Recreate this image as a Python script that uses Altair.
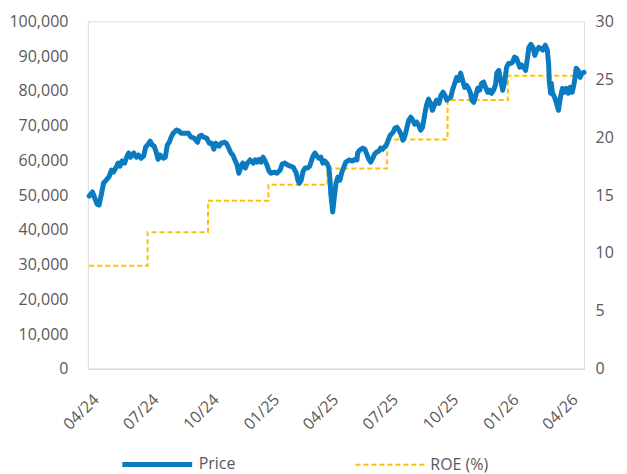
import altair as alt
import pandas as pd

# ---- Data ----
price_dates = [
    "2024-04-03", "2024-04-08", "2024-04-11", "2024-04-15", "2024-04-18", "2024-04-22", "2024-04-25", "2024-04-29",
    "2024-05-03", "2024-05-07", "2024-05-10", "2024-05-14", "2024-05-17", "2024-05-20", "2024-05-23", "2024-05-27",
    "2024-05-30", "2024-06-02", "2024-06-05", "2024-06-10", "2024-06-14", "2024-06-17", "2024-06-21", "2024-06-25",
    "2024-06-28", "2024-07-02", "2024-07-05", "2024-07-08", "2024-07-11", "2024-07-14", "2024-07-17", "2024-07-20",
    "2024-07-25", "2024-07-28", "2024-07-31", "2024-08-03", "2024-08-06", "2024-08-09", "2024-08-14", "2024-08-18",
    "2024-08-21", "2024-08-26", "2024-09-01", "2024-09-05", "2024-09-10", "2024-09-15", "2024-09-18", "2024-09-21",
    "2024-09-24", "2024-09-29", "2024-10-03", "2024-10-07", "2024-10-10", "2024-10-13", "2024-10-18", "2024-10-21",
    "2024-10-26", "2024-10-29", "2024-11-01", "2024-11-05", "2024-11-08", "2024-11-11", "2024-11-14", "2024-11-17",
    "2024-11-20", "2024-11-23", "2024-11-27", "2024-11-30", "2024-12-04", "2024-12-09", "2024-12-12", "2024-12-15",
    "2024-12-18", "2024-12-21", "2024-12-24", "2024-12-27", "2024-12-30", "2025-01-02", "2025-01-05", "2025-01-10",
    "2025-01-14", "2025-01-19", "2025-01-22", "2025-01-26", "2025-01-31", "2025-02-04", "2025-02-08", "2025-02-12",
    "2025-02-14", "2025-02-15", "2025-02-17", "2025-02-20", "2025-02-23", "2025-02-26", "2025-03-02", "2025-03-05",
    "2025-03-08", "2025-03-10", "2025-03-13", "2025-03-16", "2025-03-19", "2025-03-22", "2025-03-25", "2025-03-28",
    "2025-03-31", "2025-04-03", "2025-04-05", "2025-04-06", "2025-04-08", "2025-04-09", "2025-04-11", "2025-04-14",
    "2025-04-17", "2025-04-20", "2025-04-23", "2025-04-26", "2025-04-29", "2025-05-04", "2025-05-09", "2025-05-13",
    "2025-05-16", "2025-05-17", "2025-05-20", "2025-05-25", "2025-05-28", "2025-05-31", "2025-06-03", "2025-06-06",
    "2025-06-09", "2025-06-12", "2025-06-15", "2025-06-18", "2025-06-21", "2025-06-24", "2025-06-27", "2025-06-30",
    "2025-07-05", "2025-07-10", "2025-07-13", "2025-07-16", "2025-07-19", "2025-07-22", "2025-07-25", "2025-07-28",
    "2025-07-31", "2025-08-03", "2025-08-06", "2025-08-09", "2025-08-12", "2025-08-15", "2025-08-18", "2025-08-21",
    "2025-08-24", "2025-08-27", "2025-08-30", "2025-09-02", "2025-09-05", "2025-09-08", "2025-09-11", "2025-09-14",
    "2025-09-18", "2025-09-21", "2025-09-24", "2025-09-27", "2025-09-30", "2025-10-03", "2025-10-06", "2025-10-09",
    "2025-10-12", "2025-10-15", "2025-10-18", "2025-10-21", "2025-10-24", "2025-10-27", "2025-10-30", "2025-11-02",
    "2025-11-05", "2025-11-07", "2025-11-10", "2025-11-13", "2025-11-16", "2025-11-19", "2025-11-22", "2025-11-25",
    "2025-11-28", "2025-12-01", "2025-12-03", "2025-12-04", "2025-12-07", "2025-12-10", "2025-12-13", "2025-12-15",
    "2025-12-18", "2025-12-21", "2025-12-24", "2025-12-27", "2025-12-30", "2026-01-02", "2026-01-05", "2026-01-08",
    "2026-01-11", "2026-01-14", "2026-01-17", "2026-01-19", "2026-01-22", "2026-01-25", "2026-01-28", "2026-01-31",
    "2026-02-02", "2026-02-05", "2026-02-08", "2026-02-11", "2026-02-14", "2026-02-17", "2026-02-20", "2026-02-23",
    "2026-02-26", "2026-02-27", "2026-03-02", "2026-03-04", "2026-03-05", "2026-03-07", "2026-03-08", "2026-03-10",
    "2026-03-13", "2026-03-16", "2026-03-19", "2026-03-22", "2026-03-25", "2026-03-28", "2026-03-31", "2026-04-03",
    "2026-04-06", "2026-04-09", "2026-04-12", "2026-04-15", "2026-04-18", "2026-04-21", "2026-04-24", "2026-04-27",
]
price_values = [
    49700, 50900, 49400, 47400, 47100, 50600, 53500, 54300,
    55200, 57200, 56600, 58000, 59200, 58300, 59800, 59200,
    60900, 62100, 60900, 62100, 60900, 61500, 60600, 61200,
    63800, 64700, 65500, 64400, 64100, 62400, 60300, 61500,
    60600, 60900, 64400, 65200, 66700, 67800, 68700, 68400,
    67800, 67800, 67800, 66700, 66400, 65200, 67000, 67200,
    66700, 66400, 64900, 64900, 63200, 64900, 64100, 64900,
    65200, 64900, 63800, 62100, 61500, 60100, 58900, 56300,
    58000, 59200, 57800, 59200, 60100, 59200, 60100, 59500,
    60300, 59500, 60900, 59800, 58600, 56900, 56300, 56600,
    56300, 57200, 58900, 59200, 58600, 58300, 58000, 56600,
    55200, 54300, 53400, 54300, 56900, 57800, 57800, 58300,
    60100, 61200, 62100, 61200, 60600, 60900, 59200, 59800,
    59200, 58000, 54300, 50600, 47100, 45100, 48600, 53400,
    55200, 54300, 56600, 58000, 59500, 60100, 59800, 60300,
    60100, 62100, 62900, 63500, 63200, 61800, 60300, 59500,
    60600, 61800, 62400, 62600, 63500, 63200, 63800, 64500,
    67000, 68100, 69300, 69500, 68700, 67500, 65800, 67000,
    69300, 71600, 72400, 71600, 70400, 71000, 70100, 68700,
    69500, 73000, 75900, 77600, 76400, 74400, 75900, 77300,
    76400, 78700, 79600, 78700, 77300, 77900, 78200, 80500,
    82200, 83900, 83000, 85100, 83000, 81000, 81600, 80700,
    79300, 77300, 76700, 78700, 80700, 80200, 82200, 82500,
    81000, 79600, 79600, 80200, 79300, 80200, 81600, 85100,
    85900, 83000, 80200, 82500, 86800, 87900, 87900, 88200,
    89700, 89400, 87900, 86800, 87400, 86800, 85900, 89700,
    92500, 93400, 92500, 90200, 91700, 92500, 92200, 91700,
    92800, 93100, 91700, 87900, 83000, 79300, 82200, 79300,
    78200, 76400, 74400, 78200, 80700, 79600, 80700, 79300,
    81000, 79600, 82200, 86500, 85900, 83900, 85100, 85300,
]

roe_dates = ["2024-04-03", "2024-07-01", "2024-10-01", "2025-01-01", "2025-04-01",
             "2025-07-01", "2025-10-01", "2026-01-01", "2026-04-27"]
roe_values = [8.9, 11.8, 14.5, 15.9, 17.3, 19.8, 23.2, 25.3, 25.3]

series_names = ["Price", "ROE (%)"]
tick_dates = ["2024-04-01", "2024-07-01", "2024-10-01", "2025-01-01", "2025-04-01",
              "2025-07-01", "2025-10-01", "2026-01-01", "2026-04-01"]
price_ticks = [0, 10000, 20000, 30000, 40000, 50000, 60000, 70000, 80000, 90000, 100000]
roe_ticks = [0, 5, 10, 15, 20, 25, 30]

# ---- Tables ----
price_df = pd.DataFrame({"date": pd.to_datetime(price_dates), "value": price_values,
                         "series": series_names[0]})
roe_df = pd.DataFrame({"date": pd.to_datetime(roe_dates), "value": roe_values,
                       "series": series_names[1]})

def dt(s):
    y, m, d = s.split("-")
    return alt.DateTime(year=int(y), month=int(m), date=int(d))

TEXT = "#595959"
BLUE = "#0A7BC1"
GOLD = "#FFC000"
FS = 16

legend = alt.Legend(
    title=None, orient="none", direction="horizontal",
    legendX=32, legendY=406,
    symbolType="stroke", symbolSize=4900,
    labelFontSize=FS, labelColor=TEXT, columnPadding=116,
)

color = alt.Color("series:N", scale=alt.Scale(domain=series_names, range=[BLUE, GOLD]), legend=legend)
dash = alt.StrokeDash("series:N", scale=alt.Scale(domain=series_names, range=[[1, 0], [5, 3]]), legend=legend)
swidth = alt.StrokeWidth("series:N", scale=alt.Scale(domain=series_names, range=[5, 2]), legend=legend)

x = alt.X("date:T",
          scale=alt.Scale(domain=[dt("2024-04-01"), dt(price_dates[-1])], nice=False),
          axis=alt.Axis(values=[dt(s) for s in tick_dates], format="%m/%y", title=None,
                        labelAngle=315, labelAlign="right", labelBaseline="middle",
                        labelPadding=28, labelOffset=8, labelFontSize=FS, labelColor=TEXT,
                        ticks=False, grid=False, domainColor="#D9D9D9", domainWidth=1.5))

price_line = alt.Chart(price_df).mark_line(strokeJoin="round", strokeCap="round").encode(
    x=x,
    y=alt.Y("value:Q", scale=alt.Scale(domain=[0, 100000], nice=False),
            axis=alt.Axis(values=price_ticks, labelExpr="format(datum.value, ',')", title=None,
                          grid=False, domain=False, ticks=False, labelPadding=20,
                          labelFontSize=FS, labelColor=TEXT)),
    color=color, strokeDash=dash, strokeWidth=swidth,
)

roe_line = alt.Chart(roe_df).mark_line(interpolate="step-after").encode(
    x=x,
    y=alt.Y("value:Q", scale=alt.Scale(domain=[0, 30], nice=False),
            axis=alt.Axis(values=roe_ticks, orient="right", title=None, grid=False, domain=False,
                          ticks=False, labelPadding=11, labelFontSize=FS, labelColor=TEXT)),
    color=color, strokeDash=dash, strokeWidth=swidth,
)

chart = alt.layer(roe_line, price_line).resolve_scale(y="independent").properties(
    width=497, height=348,
    padding={"top": 5, "left": 0, "right": 5, "bottom": 0},
    background="white",
).configure_view(stroke=None).configure(font="Open Sans")

chart.save("out.html", embed_options={"renderer": "svg", "actions": False})
